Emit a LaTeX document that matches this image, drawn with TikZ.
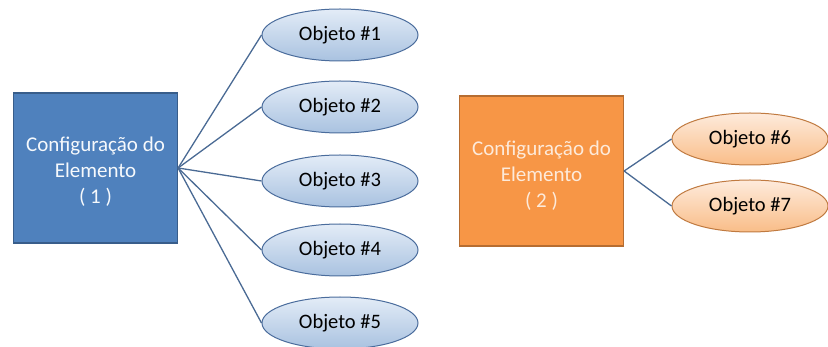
\documentclass[tikz,border=0pt]{standalone}
\usepackage{fontspec}
\setmainfont{Carlito}
\usetikzlibrary{shapes.geometric}
\definecolor{boxblue}{HTML}{4F81BD}
\definecolor{boxblueline}{HTML}{385D8A}
\definecolor{boxorange}{HTML}{F79646}
\definecolor{boxorangeline}{HTML}{B66D31}
\definecolor{ellblueTop}{HTML}{E3ECF7}
\definecolor{ellblueBot}{HTML}{A9C2E0}
\definecolor{ellblueLine}{HTML}{4A6C9C}
\definecolor{ellorTop}{HTML}{FEEBDC}
\definecolor{ellorBot}{HTML}{F9BD88}
\definecolor{ellorLine}{HTML}{C07A40}
\definecolor{conn}{HTML}{4A6A94}
\definecolor{creamtext}{HTML}{FDEADA}
\tikzset{
  cfgbox/.style={rectangle, draw, line width=1.2pt, minimum width=164pt, minimum height=150pt,
    inner sep=0pt},
  bluebox/.style={cfgbox, fill=boxblue, draw=boxblueline},
  orangebox/.style={cfgbox, fill=boxorange, draw=boxorangeline},
  cfgtext/.style={align=center, inner sep=0pt, font=\fontsize{21}{26}\selectfont},
  objell/.style={ellipse, line width=1pt, minimum width=156pt, minimum height=52pt, inner sep=0pt,
    font=\fontsize{20.5}{24}\selectfont, text=black},
  blueell/.style={objell, draw=ellblueLine, top color=ellblueTop, bottom color=ellblueBot},
  orangeell/.style={objell, draw=ellorLine, top color=ellorTop, bottom color=ellorBot},
  connline/.style={draw=conn, line width=1.3pt}
}
\begin{document}
\begin{tikzpicture}[x=1pt,y=-1pt]
\useasboundingbox (0,0) rectangle (828,347);
\node[bluebox] (c1) at (95.5,168) {};
\node[cfgtext, text=white!95!boxblue] (c1t) at ([yshift=-4pt]c1.center) {Configuração do\\Elemento\\( 1 )};
\node[orangebox] (c2) at (541.5,171) {};
\node[cfgtext, text=creamtext] (c2t) at ([yshift=-5pt]c2.center) {Configuração do\\Elemento\\( 2 )};
\node[blueell] (o1) at (340,35) {Objeto \#1};
\node[blueell] (o2) at (340,107) {Objeto \#2};
\node[blueell] (o3) at (340,181) {Objeto \#3};
\node[blueell] (o4) at (340,250) {Objeto \#4};
\node[blueell] (o5) at (340,323) {Objeto \#5};
\node[orangeell] (o6) at (750,139) {Objeto \#6};
\node[orangeell] (o7) at (750,206) {Objeto \#7};
\foreach \o in {o1,o2,o3,o4,o5}{
  \draw[connline] (c1.east) -- (\o.west);
}
\draw[connline] (c2.east) -- (o6.west);
\draw[connline] (c2.east) -- (o7.west);
\end{tikzpicture}
\end{document}
